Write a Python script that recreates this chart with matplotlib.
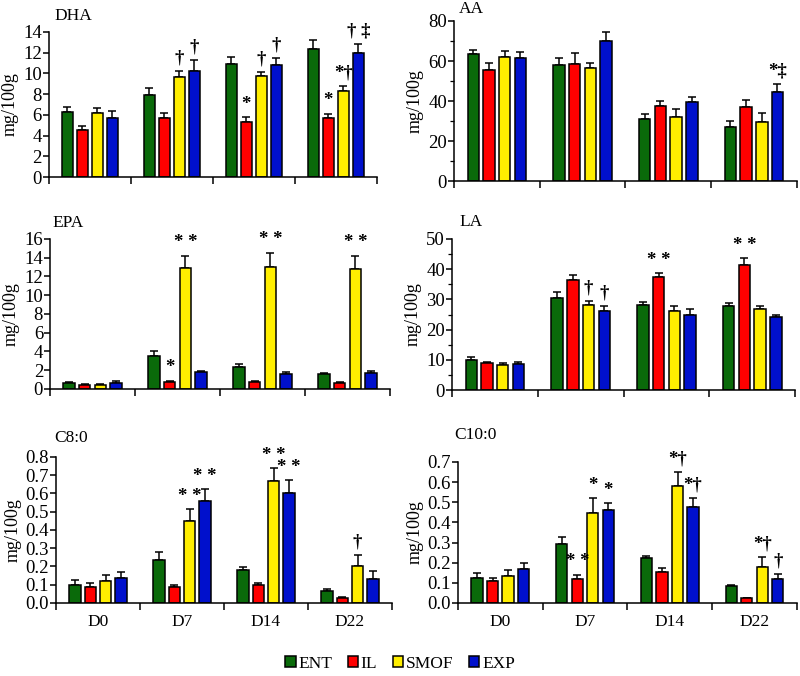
import matplotlib
matplotlib.use("Agg")
import matplotlib.pyplot as plt
from matplotlib.patches import Patch
from matplotlib.ticker import MultipleLocator, FormatStrFormatter, NullLocator
import numpy as np

plt.rcParams['font.family'] = ['Liberation Serif', 'DejaVu Serif']

days = ["D0", "D7", "D14", "D22"]
groups = ["ENT", "IL", "SMOF", "EXP"]
colors = ["#0a6a0a", "#ff0000", "#ffee00", "#0010cc"]

# values per group (rows: ENT, IL, SMOF, EXP; cols: D0, D7, D14, D22)
dha_mean = [[6.3, 7.9, 10.9, 12.3], [4.5, 5.7, 5.3, 5.7], [6.2, 9.6, 9.7, 8.3], [5.7, 10.2, 10.8, 12.0]]
dha_err = [[0.5, 0.7, 0.7, 0.9], [0.4, 0.5, 0.5, 0.4], [0.5, 0.6, 0.4, 0.5], [0.7, 1.1, 0.7, 0.8]]
dha_sig = [["", "", "", ""], ["", "", "*", "*"], ["", "†", "†", "*†"], ["", "†", "†", "† ‡"]]

aa_mean = [[63.3, 57.8, 30.8, 26.8], [55.7, 58.7, 37.5, 36.8], [62.2, 56.3, 31.8, 29.5], [61.3, 70.0, 39.5, 44.3]]
aa_err = [[2.2, 3.5, 2.7, 3.4], [3.1, 5.1, 2.7, 3.7], [2.8, 2.9, 4.0, 4.3], [3.2, 4.7, 2.7, 4.2]]
aa_sig = [["", "", "", ""], ["", "", "", ""], ["", "", "", ""], ["", "", "", "*‡"]]

epa_mean = [[0.6, 3.47, 2.38, 1.6], [0.46, 0.78, 0.78, 0.67], [0.46, 12.94, 13.0, 12.77], [0.67, 1.84, 1.56, 1.74]]
epa_err = [[0.1, 0.53, 0.24, 0.07], [0.05, 0.07, 0.05, 0.05], [0.05, 1.24, 1.5, 1.41], [0.18, 0.11, 0.24, 0.14]]
epa_sig = [["", "", "", ""], ["", "*", "", ""], ["", "**", "**", "**"], ["", "", "", ""]]

la_mean = [[9.96, 30.6, 28.0, 27.8], [8.85, 36.5, 37.4, 41.3], [8.4, 28.3, 26.3, 26.7], [8.7, 26.3, 24.9, 24.1]]
la_err = [[0.85, 2.0, 1.1, 1.1], [0.55, 1.7, 1.3, 2.3], [0.45, 1.2, 1.4, 1.2], [0.5, 1.5, 1.9, 0.6]]
la_sig = [["", "", "", ""], ["", "", "**", "**"], ["", "†", "", ""], ["", "†", "", ""]]

c8_mean = [[0.100, 0.236, 0.179, 0.066], [0.088, 0.088, 0.100, 0.027], [0.122, 0.451, 0.667, 0.203], [0.137, 0.561, 0.600, 0.133]]
c8_err = [[0.026, 0.045, 0.018, 0.013], [0.020, 0.011, 0.011, 0.006], [0.030, 0.064, 0.073, 0.060], [0.033, 0.064, 0.072, 0.044]]
c8_sig = [["", "", "", ""], ["", "", "", ""], ["", "**", "**", "†"], ["", "**", "**", ""]]

c10_mean = [[0.123, 0.291, 0.224, 0.085], [0.108, 0.118, 0.153, 0.023], [0.136, 0.449, 0.582, 0.180], [0.168, 0.461, 0.477, 0.118]]
c10_err = [[0.028, 0.038, 0.009, 0.003], [0.015, 0.023, 0.022, 0.004], [0.029, 0.070, 0.068, 0.049], [0.033, 0.033, 0.045, 0.027]]
c10_sig = [["", "", "", ""], ["", "**", "", ""], ["", "*", "*†", "*†"], ["", "*", "*†", "†"]]

fig = plt.figure(figsize=(8, 6.76), dpi=100)

# title, data, ymax, major step, minor step, axes rect, title position, show day labels
panels = [
    ("DHA", dha_mean, dha_err, dha_sig, 14, 2, None, [0.061, 0.738, 0.41, 0.215], (0.068, 0.976), False),
    ("AA", aa_mean, aa_err, aa_sig, 80, 20, 10, [0.5675, 0.732, 0.4285, 0.237], (0.574, 0.987), False),
    ("EPA", epa_mean, epa_err, epa_sig, 16, 2, None, [0.0625, 0.4246, 0.425, 0.222], (0.066, 0.670), False),
    ("LA", la_mean, la_err, la_sig, 50, 10, 5, [0.565, 0.423, 0.429, 0.2235], (0.574, 0.671), False),
    ("C8:0", c8_mean, c8_err, c8_sig, 0.8, 0.1, None, [0.07, 0.108, 0.42, 0.216], (0.068, 0.352), True),
    ("C10:0", c10_mean, c10_err, c10_sig, 0.7, 0.1, None, [0.5725, 0.108, 0.4235, 0.2086], (0.568, 0.356), True),
]

pitch = 0.183
width = 0.134
x = np.arange(len(days))

for title, mean, err, sig, ymax, step, minor, rect, tpos, bottom in panels:
    ax = fig.add_axes(rect)
    for j in range(len(groups)):
        xs = x + (j - 1.5) * pitch
        ax.bar(xs, mean[j], width=width, color=colors[j], edgecolor="black", linewidth=1.1, zorder=2)
        ax.errorbar(xs, mean[j], yerr=[np.zeros(4), err[j]], fmt="none", ecolor="black",
                    elinewidth=1.1, capsize=3, capthick=1.1, zorder=1)
        for k in range(len(days)):
            if sig[j][k]:
                label = sig[j][k].replace("**", "* *")
                ax.text(xs[k], mean[j][k] + err[j][k] + ymax * 0.03, label, ha="center", va="bottom",
                        fontsize=13.5, fontweight="bold")
    ax.set_xlim(-0.5, 3.5)
    ax.set_ylim(0, ymax)
    ax.yaxis.set_major_locator(MultipleLocator(step))
    if minor:
        ax.yaxis.set_minor_locator(MultipleLocator(minor))
    else:
        ax.yaxis.set_minor_locator(NullLocator())
    if step < 1:
        ax.yaxis.set_major_formatter(FormatStrFormatter("%.1f"))
    ax.set_xticks([-0.5, 0.5, 1.5, 2.5, 3.5])
    ax.set_xticklabels([])
    if bottom:
        ax.set_xticks(x, minor=True)
        ax.set_xticklabels(days, minor=True, fontsize=12.5)
        ax.tick_params(axis="x", which="minor", length=0, pad=8)
    ax.tick_params(axis="x", which="major", length=5, width=1.1)
    ax.tick_params(axis="y", which="major", labelsize=13.5, length=4, width=1.1, pad=1)
    ax.tick_params(axis="y", which="minor", length=3, width=0.9)
    ax.spines["top"].set_visible(False)
    ax.spines["right"].set_visible(False)
    ax.spines["left"].set_linewidth(1.1)
    ax.spines["bottom"].set_linewidth(1.1)
    ax.set_ylabel("mg/100g", fontsize=13, labelpad=3)
    fig.text(tpos[0], tpos[1], title, fontsize=12.5, va="center", ha="left")

handles = [Patch(facecolor=c, edgecolor="black", linewidth=1.1) for c in colors]
fig.legend(handles, groups, loc="center", bbox_to_anchor=(0.5, 0.018), ncol=4, frameon=False,
           fontsize=12.5, handlelength=0.6, handleheight=0.6, handletextpad=0.15, columnspacing=0.9)

fig.savefig("out.png", dpi=100)
